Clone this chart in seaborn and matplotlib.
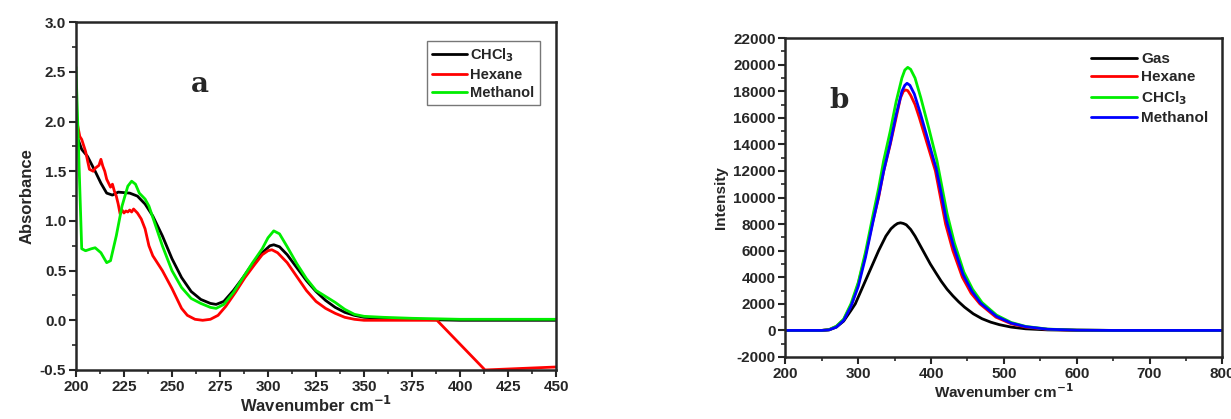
import pandas as pd
import matplotlib.pyplot as plt
from matplotlib.ticker import MultipleLocator
import seaborn as sns

sns.set_style("ticks")
plt.rcParams['font.family'] = ['Liberation Sans', 'DejaVu Sans']
plt.rcParams['font.weight'] = 'bold'
plt.rcParams['axes.labelweight'] = 'bold'
plt.rcParams['axes.unicode_minus'] = False

# ---- panel a: absorbance ----
chcl3_x = [200, 203, 206, 210, 213, 216, 219, 222, 228, 232, 236, 240, 245, 250, 255, 260, 265, 270, 273,
           277, 282, 287, 292, 297, 301, 303, 306, 310, 315, 320, 325, 330, 335, 340, 345, 350, 360, 375, 400, 450]
chcl3_y = [1.88, 1.72, 1.65, 1.50, 1.38, 1.28, 1.26, 1.29, 1.28, 1.25, 1.17, 1.05, 0.85, 0.62, 0.43, 0.29, 0.21,
           0.17, 0.16, 0.19, 0.30, 0.43, 0.57, 0.68, 0.75, 0.76, 0.74, 0.66, 0.53, 0.40, 0.29, 0.20, 0.13, 0.08,
           0.05, 0.03, 0.02, 0.01, 0.0, 0.0]

hexane_x = [200, 202, 203, 205, 207, 209, 210, 212, 213, 214, 215, 216, 217, 218, 219, 220, 221, 222, 223, 224,
            225, 226, 227, 228, 229, 230, 231, 232, 234, 236, 238, 240, 245, 250, 255, 258, 262, 266, 270, 274,
            278, 283, 288, 293, 297, 300, 302, 305, 310, 315, 320, 325, 330, 335, 340, 345, 350, 388, 413, 450]
hexane_y = [2.05, 1.85, 1.82, 1.70, 1.52, 1.50, 1.53, 1.56, 1.62, 1.55, 1.50, 1.42, 1.38, 1.34, 1.37, 1.30,
            1.25, 1.17, 1.07, 1.11, 1.08, 1.10, 1.09, 1.11, 1.09, 1.12, 1.10, 1.08, 1.02, 0.92, 0.75, 0.65, 0.50,
            0.32, 0.12, 0.05, 0.01, 0.0, 0.01, 0.05, 0.14, 0.28, 0.43, 0.56, 0.66, 0.70, 0.71, 0.68, 0.58, 0.44,
            0.30, 0.19, 0.12, 0.07, 0.03, 0.01, 0.0, 0.0, -0.5, -0.47]

methanol_x = [200, 203, 205, 208, 210, 213, 216, 218, 221, 224, 227, 229, 231, 233, 236, 238, 241, 245, 250,
              255, 260, 265, 270, 273, 277, 282, 287, 292, 297, 300, 303, 306, 310, 315, 320, 325, 330, 335, 340,
              345, 350, 360, 375, 400, 450]
methanol_y = [2.55, 0.72, 0.70, 0.72, 0.73, 0.68, 0.58, 0.60, 0.85, 1.15, 1.35, 1.40, 1.37, 1.28, 1.22, 1.15,
              0.98, 0.75, 0.50, 0.33, 0.22, 0.17, 0.13, 0.12, 0.16, 0.28, 0.43, 0.58, 0.72, 0.83, 0.90, 0.87,
              0.74, 0.57, 0.42, 0.30, 0.24, 0.18, 0.11, 0.06, 0.04, 0.03, 0.02, 0.01, 0.01]

# ---- panel b: intensity ----
gas_x = [200, 250, 260, 270, 280, 290, 296, 304, 312, 320, 328, 338, 345, 350, 354, 358, 362, 366, 372, 378,
         384, 391, 399, 407, 414, 422, 430, 438, 446, 458, 470, 482, 494, 510, 530, 560, 600, 650, 800]
gas_y = [0, 0, 40, 250, 700, 1500, 2000, 3000, 4000, 5000, 6000, 7100, 7650, 7900, 8050, 8100, 8050, 7950,
         7600, 7100, 6500, 5800, 5000, 4300, 3700, 3100, 2600, 2150, 1750, 1250, 880, 620, 430, 250, 120, 40,
         10, 0, 0]

hexb_x = [200, 250, 260, 270, 280, 291, 300, 310, 320, 328, 335, 344, 352, 358, 362, 365, 368, 372, 378, 384,
          395, 406, 413, 420, 430, 443, 455, 467, 489, 510, 530, 560, 600, 650, 800]
hexb_y = [0, 0, 60, 300, 800, 2000, 3500, 5700, 8200, 10000, 12000, 14000, 16000, 17500, 18000, 18100, 18050,
          17700, 17000, 16000, 14000, 12000, 10000, 8000, 6000, 4000, 2800, 2000, 1000, 500, 250, 80, 20, 0, 0]

chclb_x = [200, 250, 260, 270, 280, 290, 300, 310, 320, 328, 335, 344, 352, 360, 364, 368, 372, 378, 386, 397,
           408, 415, 422, 432, 445, 457, 470, 490, 510, 530, 560, 600, 650, 800]
chclb_y = [0, 0, 60, 320, 850, 2000, 3600, 5900, 8600, 10700, 12800, 15000, 17200, 19000, 19600, 19800, 19650,
           19000, 17500, 15200, 12800, 10800, 8800, 6600, 4400, 3100, 2100, 1150, 600, 300, 100, 25, 0, 0]

methb_x = [200, 250, 260, 270, 280, 290, 300, 310, 320, 328, 335, 344, 352, 360, 364, 367, 371, 377, 385, 396,
           407, 414, 421, 431, 444, 456, 468, 490, 510, 530, 560, 600, 650, 800]
methb_y = [0, 0, 40, 250, 750, 1800, 3300, 5500, 8100, 10100, 12000, 14100, 16200, 18000, 18450, 18600, 18450,
           17800, 16400, 14300, 12200, 10300, 8300, 6300, 4200, 2950, 2050, 1050, 550, 280, 90, 20, 0, 0]


def build(parts):
    frames = []
    for name, xs, ys in parts:
        frames.append(pd.DataFrame({'x': xs, 'y': ys, 'series': name}))
    return pd.concat(frames, ignore_index=True)


df_a = build([('CHCl$_3$', chcl3_x, chcl3_y), ('Hexane', hexane_x, hexane_y), ('Methanol', methanol_x, methanol_y)])
df_b = build([('Gas', gas_x, gas_y), ('Hexane', hexb_x, hexb_y), ('CHCl$_3$', chclb_x, chclb_y),
              ('Methanol', methb_x, methb_y)])

fig = plt.figure(figsize=(12.31, 4.19), dpi=100)
ax1 = fig.add_axes([0.0617, 0.117, 0.39, 0.83])
ax2 = fig.add_axes([0.638, 0.148, 0.355, 0.761])

sns.lineplot(data=df_a, x='x', y='y', hue='series', sort=False, estimator=None, ax=ax1, linewidth=2,
             palette=['#000000', '#ff0000', '#00ee00'])
sns.lineplot(data=df_b, x='x', y='y', hue='series', sort=False, estimator=None, ax=ax2, linewidth=2,
             palette=['#000000', '#ff0000', '#00ee00', '#0000ff'])

ax1.set_xlim(200, 450)
ax1.set_ylim(-0.5, 3.0)
ax1.xaxis.set_major_locator(MultipleLocator(25))
ax1.xaxis.set_minor_locator(MultipleLocator(12.5))
ax1.yaxis.set_major_locator(MultipleLocator(0.5))
ax1.yaxis.set_minor_locator(MultipleLocator(0.25))
ax1.yaxis.set_major_formatter(plt.FormatStrFormatter('%.1f'))
ax1.set_xlabel('Wavenumber cm$^{-1}$', fontsize=12, fontweight='bold', labelpad=1)
ax1.set_ylabel('Absorbance', fontsize=12, fontweight='bold')
leg = ax1.legend(loc='upper right', bbox_to_anchor=(0.972, 0.955), fontsize=10.5, frameon=True,
                 fancybox=False, edgecolor='#555555', handlelength=2.4, handletextpad=0.25, borderpad=0.35,
                 labelspacing=0.3, borderaxespad=0.2)
leg.get_frame().set_linewidth(1)
ax1.text(0.24, 0.8, 'a', transform=ax1.transAxes, fontsize=20, fontweight='bold', family='DejaVu Serif')

ax2.set_xlim(200, 800)
ax2.set_ylim(-2000, 22000)
ax2.xaxis.set_major_locator(MultipleLocator(100))
ax2.xaxis.set_minor_locator(MultipleLocator(50))
ax2.yaxis.set_major_locator(MultipleLocator(2000))
ax2.yaxis.set_minor_locator(MultipleLocator(1000))
ax2.set_xlabel('Wavenumber cm$^{-1}$', fontsize=11, fontweight='bold', labelpad=1)
ax2.set_ylabel('Intensity', fontsize=11, fontweight='bold')
ax2.legend(loc='upper right', fontsize=11, frameon=False, handlelength=3, handletextpad=0.3,
           labelspacing=0.3, bbox_to_anchor=(1.0, 1.0))
ax2.text(0.1, 0.78, 'b', transform=ax2.transAxes, fontsize=20, fontweight='bold', family='DejaVu Serif')

for ax in (ax1, ax2):
    for s in ax.spines.values():
        s.set_linewidth(1.8)
        s.set_visible(True)
    ax.tick_params(which='major', direction='out', length=5, width=1.5, labelsize=11, pad=2,
                   top=False, right=False)
    ax.tick_params(which='minor', direction='out', length=3, width=1.2, top=False, right=False)
    for t in ax.get_xticklabels() + ax.get_yticklabels():
        t.set_fontweight('bold')
ax2.tick_params(labelsize=11)

fig.savefig('out.png', dpi=100)
